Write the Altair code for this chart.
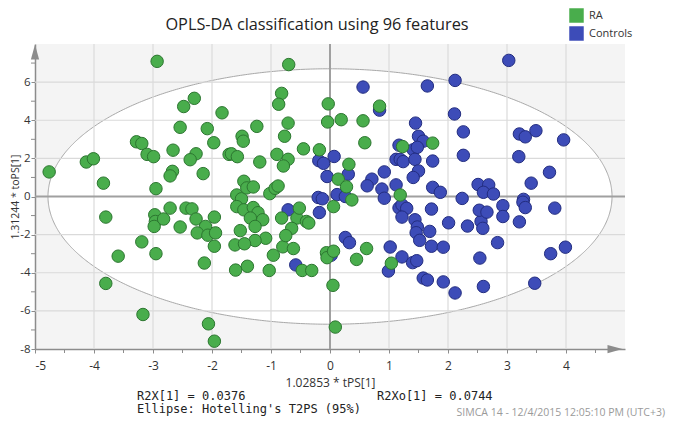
import altair as alt
import numpy as np
import pandas as pd

# ---------------- data ----------------
ra_x = [-2.93, -2.30, -2.48, -1.83, -2.54, -2.08, -1.97, -3.28, -3.19, -2.66,
        -2.27, -3.10, -2.99, -2.37, -1.71, -4.13, -4.01, -4.76, -2.67, -2.71,
        -2.15, -3.84, -2.95, -1.58, -1.50, -0.70, -0.82, -0.87, -0.03, 0.84,
        -0.71, -0.04, 0.19, 0.56, -1.24, -0.77, -1.49, -1.47, 0.59, 1.23,
        -0.45, -0.18, -1.67, -1.57, -0.90, -0.71, -0.79, -1.19, 0.32, 0.14,
        -1.46, -1.41, -1.30, -1.02, -0.93, -0.88, 1.19, 0.37, 1.74, 0.28,
        0.06, -3.80, -2.97, -2.96, -2.98, -2.82, -2.71, -2.44, -2.34, -2.27,
        -2.54, -2.11, -2.25, -2.07, -1.96, -1.94, -1.96, -1.61, -1.60, -3.19,
        -2.95, -3.59, -2.13, -3.80, -3.17, -2.06, -1.96, -1.58, -1.46, -1.30,
        -1.22, -1.35, -1.14, -1.27, -1.52, -1.09, -1.27, -1.45, -1.40, -1.03,
        -0.96, -0.80, -0.62, -0.82, -0.56, -0.40, -0.36, -0.65, -0.75, -0.52,
        -0.47, -0.31, -0.06, -0.05, 0.06, 0.05, 0.09, 0.62, 0.45, 1.04]
ra_y = [7.09, 5.15, 4.72, 4.39, 3.63, 3.56, 2.82, 2.87, 2.78, 2.43,
        2.24, 2.21, 2.09, 1.93, 2.21, 1.81, 1.98, 1.29, 1.32, 1.08,
        1.20, 0.70, 0.41, 0.08, -0.12, 6.92, 5.41, 4.84, 4.86, 4.74,
        3.85, 3.91, 4.03, 3.97, 3.68, 3.16, 3.16, 2.90, 2.82, 2.62,
        2.50, 2.45, 2.24, 2.09, 2.21, 1.95, 1.60, 1.81, 1.69, 0.91,
        0.80, 0.45, 0.50, 0.15, 0.43, 0.55, 0.08, -0.18, 2.80, 0.51,
        -0.53, -1.08, -0.96, -1.31, -1.57, -1.18, -0.61, -0.61, -0.65, -1.18,
        -1.60, -1.57, -1.91, -2.03, -1.08, -1.91, -2.61, -2.54, -3.86, -2.38,
        -3.00, -3.13, -3.49, -4.56, -6.19, -6.68, -7.59, -0.53, -0.70, -0.58,
        -0.85, -1.13, -1.22, -1.57, -1.79, -2.19, -2.31, -2.48, -3.66, -3.88,
        -3.08, -2.64, -2.73, -1.13, -1.13, -1.31, -1.39, -1.67, -2.05, -0.61,
        -3.88, -3.88, -2.95, -3.21, -2.87, -4.66, -6.85, -2.73, -3.30, -3.50]

ctrl_x = [0.84, 0.56, 1.65, 3.03, 2.12, 2.11, 2.26, 3.21, 3.31, 3.49,
          3.96, 1.74, 2.26, 3.20, 3.72, 3.41, 1.74, 1.87, 2.51, 2.69,
          2.60, 2.77, 2.24, 3.28, 1.45, 1.50, 1.58, 1.17, 1.41, 1.48,
          -0.19, -0.11, 0.07, 0.31, -0.05, 0.92, 0.71, 0.63, 0.88, 1.12,
          1.12, 1.19, 1.24, 1.44, 1.50, 1.41, -0.20, -0.13, 0.12, 0.26,
          0.92, 1.17, 1.22, 1.30, 1.22, 1.44, 1.48, 1.46, 1.52, 1.69,
          1.72, 2.01, 2.33, 2.56, 2.59, 2.53, 2.66, 1.72, 1.92, 1.02,
          1.22, 1.40, 1.47, 2.54, 0.26, 0.33, 2.93, 2.93, 3.27, 3.31,
          3.81, 3.21, 2.84, 3.74, 3.99, 1.58, 1.65, 1.92, 2.12, 2.60,
          3.47, 0.99, -0.18, -0.71, -0.58, 0.02]
ctrl_y = [4.53, 5.74, 5.80, 7.14, 6.09, 4.33, 3.39, 3.28, 3.13, 3.45,
          2.97, 1.86, 2.16, 2.09, 1.27, 0.70, 0.48, 0.22, 0.63, 0.61,
          0.22, 0.13, -0.10, -0.15, 3.85, 3.16, 2.90, 2.69, 2.45, 2.58,
          1.88, 1.74, 2.10, 1.17, 1.05, 1.29, 0.91, 0.56, 0.39, 0.61,
          1.95, 1.95, 1.83, 1.95, 1.34, 1.00, -0.05, -0.12, 0.10, 0.00,
          -0.09, -0.60, -0.44, -0.62, -1.08, -1.22, -1.60, -1.90, -2.30, -1.83,
          -0.66, -1.38, -1.55, -1.31, -1.67, -0.72, -0.82, -2.61, -2.66, -2.65,
          -3.17, -3.47, -3.37, -3.23, -2.15, -2.42, -0.48, -1.05, -0.30, -0.58,
          -0.61, -1.33, -2.42, -3.00, -2.66, -4.28, -4.38, -4.48, -5.06, -4.72,
          -4.55, -3.91, -0.84, -0.70, -3.59, -3.08]

groups = ["RA", "Controls"]
fill_colors = ["#49ad4c", "#3d4cb8"]
stroke_colors = ["#2c7630", "#232d80"]

x_ticks = [-5, -4, -3, -2, -1, 0, 1, 2, 3, 4]
y_ticks = [-8, -6, -4, -2, 0, 2, 4, 6]
x_grid = [-4, -3, -2, -1, 1, 2, 3, 4]
y_grid = [-6, -4, -2, 2, 4, 6]
x_minor = [-4.5, -3.5, -2.5, -1.5, -0.5, 0.5, 1.5, 2.5, 3.5, 4.5]
y_minor = [-7, -5, -3, -1, 1, 3, 5, 7]
ellipse_a = 4.78
ellipse_b = 6.7

title_text = "OPLS-DA classification using 96 features"
x_title = "1.02853 * tPS[1]"
y_title = "1.31244 * toPS[1]"
note_r2x = "R2X[1] = 0.0376"
note_ell = "Ellipse: Hotelling's T2PS (95%)"
note_r2xo = "R2Xo[1] = 0.0744"
note_simca = "SIMCA 14 - 12/4/2015 12:05:10 PM (UTC+3)"

# ---------------- chart ----------------
W, H = 590, 305
FONT = "Open Sans"
MONO = "DejaVu Sans Mono"

df = pd.DataFrame({
    "x": ctrl_x + ra_x,
    "y": ctrl_y + ra_y,
    "group": ["Controls"] * len(ctrl_x) + ["RA"] * len(ra_x),
})

xs = alt.Scale(domain=[-5, 5], nice=False, zero=False)
ys = alt.Scale(domain=[-8, 8], nice=False, zero=False)

axis_common = dict(
    grid=False, domainColor="#8c8c8c", domainWidth=1.5, tickColor="#8c8c8c",
    tickSize=4, labelFont=FONT, labelColor="#333333",
    labelExpr="'' + datum.value", titleFont=FONT,
    titleFontWeight="normal", titleColor="#333333",
)
x_axis = alt.Axis(values=x_ticks, title=x_title, labelFontSize=12, labelPadding=7,
                  titlePadding=6, titleFontSize=12, **axis_common)
y_axis = alt.Axis(values=y_ticks, title=y_title, labelFontSize=11.5, labelPadding=1,
                  titleFontSize=10.5, titleX=-19.5, titleY=H / 2, titleAngle=270,
                  titleAlign="center", titleBaseline="middle", **axis_common)


def X(field):
    return alt.X(field, scale=xs, axis=x_axis)


def Y(field):
    return alt.Y(field, scale=ys, axis=y_axis)


t = np.linspace(0, np.pi, 361)
ell = pd.DataFrame({"ex": ellipse_a * np.cos(t),
                    "ey": ellipse_b * np.sin(t),
                    "ey2": -ellipse_b * np.sin(t)})

ellipse = alt.Chart(ell).mark_area(fill="white", stroke="#a8a8a8", strokeWidth=1).encode(
    x=X("ex:Q"), y=Y("ey:Q"), y2="ey2:Q",
)

gx = alt.Chart(pd.DataFrame({"v": x_grid})).mark_rule(color="#dadada", strokeWidth=1.2).encode(x=X("v:Q"))
gy = alt.Chart(pd.DataFrame({"v": y_grid})).mark_rule(color="#dadada", strokeWidth=1.2).encode(y=Y("v:Q"))
zx = alt.Chart(pd.DataFrame({"v": [0]})).mark_rule(color="#a0a0a0", strokeWidth=2).encode(x=X("v:Q"))
zy = alt.Chart(pd.DataFrame({"v": [0]})).mark_rule(color="#a0a0a0", strokeWidth=2).encode(y=Y("v:Q"))

mx = alt.Chart(pd.DataFrame({"v": x_minor})).mark_rule(color="#8c8c8c", strokeWidth=1).encode(
    x=X("v:Q"), y=alt.value(H), y2=alt.value(H + 4))
my = alt.Chart(pd.DataFrame({"v": y_minor})).mark_rule(color="#8c8c8c", strokeWidth=1).encode(
    y=Y("v:Q"), x=alt.value(-4), x2=alt.value(0))

points = alt.Chart(df).mark_circle(size=155, opacity=1, strokeWidth=1).encode(
    x=X("x:Q"),
    y=Y("y:Q"),
    fill=alt.Fill("group:N", scale=alt.Scale(domain=groups, range=fill_colors),
                  legend=alt.Legend(orient="none", legendX=534, legendY=-36, title=None,
                                    symbolType="square", symbolSize=210, symbolStrokeWidth=0,
                                    labelFontSize=11, labelFont=FONT, labelColor="#333333",
                                    rowPadding=3, labelOffset=5, padding=0)),
    stroke=alt.Stroke("group:N", scale=alt.Scale(domain=groups, range=stroke_colors), legend=None),
)

arrow_up = alt.Chart(pd.DataFrame({"a": [0]})).mark_point(
    shape="M0,-1L0.55,1L-0.55,1Z", size=225, filled=True, fill="#8c8c8c", opacity=1, strokeWidth=0
).encode(x=alt.value(0), y=alt.value(8))
arrow_right = alt.Chart(pd.DataFrame({"a": [0]})).mark_point(
    shape="M1,0L-1,0.55L-1,-0.55Z", size=225, filled=True, fill="#8c8c8c", opacity=1, strokeWidth=0
).encode(x=alt.value(580), y=alt.value(H))


def label(text, x, y, font, size, color, align="left", baseline="middle"):
    return alt.Chart(pd.DataFrame({"t": [text]})).mark_text(
        font=font, fontSize=size, color=color, align=align, baseline=baseline
    ).encode(text="t:N", x=alt.value(x), y=alt.value(y))


texts = [
    label(title_text, 282, -14, FONT, 16.3, "#222222", align="center", baseline="alphabetic"),
    label(note_r2x, 102, 352, MONO, 12, "#222222"),
    label(note_ell, 102, 365, MONO, 12, "#222222"),
    label(note_r2xo, 342, 352, MONO, 12, "#222222"),
    label(note_simca, 630, 369, FONT, 10.5, "#9a9a9a", align="right"),
]

chart = alt.layer(ellipse, gx, gy, zx, zy, points, mx, my, arrow_up, arrow_right, *texts).properties(
    width=W, height=H,
    padding={"left": 27, "top": 36, "right": 42, "bottom": 70},
    autosize=alt.AutoSizeParams(type="none"),
).configure_view(fill="#f4f4f4", stroke=None)

chart.save("out.html", embed_options={"renderer": "svg", "actions": False})
